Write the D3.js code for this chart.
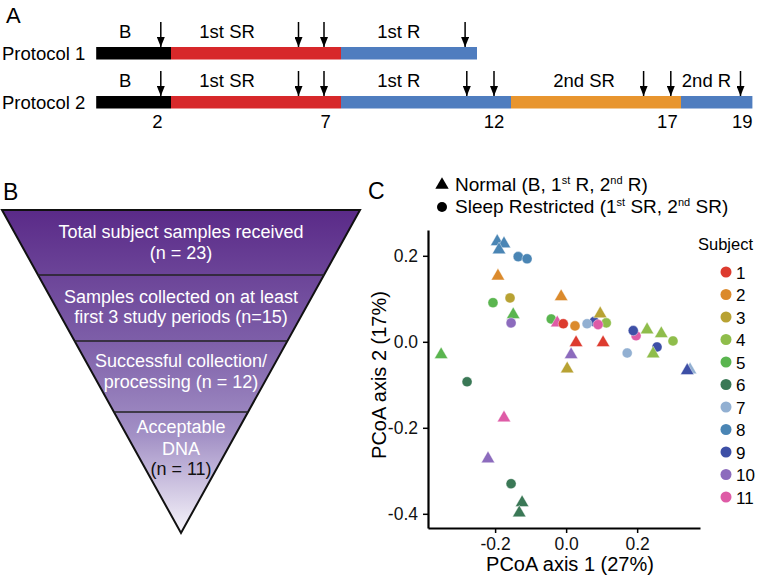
<!DOCTYPE html>
<html>
<head>
<meta charset="utf-8">
<script src="https://cdn.jsdelivr.net/npm/d3@7"></script>
<style>
  body { margin: 0; background: #fff; }
  text { font-family: "Liberation Sans", Arial, sans-serif; }
</style>
</head>
<body>
<div id="fig"></div>
<script>
// ---- panel A data (study days) ----
var periodNames = ["B", "1st SR", "1st R", "2nd SR", "2nd R"];
var periodColors = ["#000000", "#d7282a", "#4f7dbf", "#e8952e", "#4f7dbf"];
var periodStart = [-0.2, 2, 7, 12, 17];
var periodEnd1 = [2, 7, 11.0];
var periodEnd2 = [2, 7, 12, 17, 19.1];
var periodLabelDay = [0.65, 3.65, 8.7, 14.15, 17.75];
var protocolNames = ["Protocol 1", "Protocol 2"];
var sampleDays1 = [1.7, 5.75, 6.5, 10.65];
var sampleDays2 = [1.7, 5.75, 6.5, 10.7, 11.5, 15.9, 16.7, 18.75];
var dayTicks = ["2", "7", "12", "17", "19"];
var dayTickAt = [1.6, 6.55, 11.5, 16.6, 18.8];

// ---- panel B data ----
var funnelStages = [
  ["Total subject samples received", "(n = 23)"],
  ["Samples collected on at least", "first 3 study periods (n=15)"],
  ["Successful collection/", "processing (n = 12)"],
  ["Acceptable", "DNA", "(n = 11)"]
];

// ---- panel C data ----
var subjects = ["1", "2", "3", "4", "5", "6", "7", "8", "9", "10", "11"];
var subjectColors = ["#dd3b2f", "#db8a2c", "#b8a233", "#8fbd4b", "#5ab54f", "#3a7856",
                     "#92b0d2", "#4a85b4", "#3d4fa6", "#8c6bbd", "#de5ba6"];
var ptSubject = [8, 8, 8, 8, 8, 2, 2, 5, 3, 5, 10, 5, 11, 1, 2, 9, 3, 4, 7, 11,
                 1, 1, 10, 3, 5, 6, 11, 10, 6, 6, 6, 11, 9, 4, 4, 4, 9, 7, 4, 7, 9];
var ptType = ["N", "N", "N", "S", "S", "N", "N", "S", "S", "N", "S", "S", "N", "S", "S", "S", "N", "S", "S", "S",
              "N", "N", "N", "N", "N", "S", "N", "N", "S", "N", "N", "S", "S", "N", "N", "S", "S", "S", "N", "N", "N"];
var ptX = [-0.194, -0.175, -0.189, -0.135, -0.110, -0.192, -0.014, -0.206, -0.158, -0.149,
           -0.155, -0.042, -0.025, -0.008, 0.025, 0.079, 0.096, 0.113, 0.059, 0.090,
           0.028, 0.104, 0.014, 0.003, -0.352, -0.279, -0.175, -0.220, -0.155, -0.124,
           -0.132, 0.197, 0.189, 0.228, 0.268, 0.301, 0.256, 0.172, 0.245, 0.349, 0.341];
var ptY = [0.233, 0.228, 0.214, 0.198, 0.193, 0.153, 0.105, 0.091, 0.102, 0.063,
           0.044, 0.053, 0.044, 0.042, 0.037, 0.047, 0.065, 0.044, 0.042, 0.040,
           -0.002, -0.002, -0.030, -0.063, -0.030, -0.093, -0.177, -0.272, -0.330, -0.374,
           -0.398, 0.014, 0.026, 0.028, 0.019, 0.002, -0.012, -0.026, -0.028, -0.065, -0.067];
var xTicks = [-0.2, 0.0, 0.2];
var yTicks = [-0.4, -0.2, 0.0, 0.2];

var svg = d3.select("#fig").append("svg")
    .attr("width", 762)
    .attr("height", 576);

// arrow head marker
svg.append("defs").append("marker")
    .attr("id", "arrow")
    .attr("viewBox", "0 0 10 8")
    .attr("refX", 10).attr("refY", 4)
    .attr("markerWidth", 10).attr("markerHeight", 8)
    .attr("markerUnits", "userSpaceOnUse")
    .attr("orient", "auto")
    .append("path").attr("d", "M0,0L10,4L0,8Z").attr("fill", "#000");

// ================= panel A =================
var day = d3.scaleLinear().domain([0, 19]).range([103, 749]);
var panelA = svg.append("g");

panelA.append("text").attr("x", 6).attr("y", 23).attr("font-size", 22).text("A");

var rowTop = [47, 96];
var rowEnds = [periodEnd1, periodEnd2];
var rowSamples = [sampleDays1, sampleDays2];

protocolNames.forEach(function(name, r) {
    var top = rowTop[r];
    var ends = rowEnds[r];

    panelA.append("text")
        .attr("x", 2).attr("y", top + 12.5)
        .attr("font-size", 18.5)
        .text(name);

    panelA.selectAll(null)
        .data(ends)
        .enter()
        .append("rect")
        .attr("x", (d, i) => day(periodStart[i]))
        .attr("width", (d, i) => day(d) - day(periodStart[i]))
        .attr("y", top)
        .attr("height", 12.5)
        .attr("fill", (d, i) => periodColors[i]);

    panelA.selectAll(null)
        .data(ends)
        .enter()
        .append("text")
        .attr("x", (d, i) => day(periodLabelDay[i]))
        .attr("y", top - 9)
        .attr("text-anchor", "middle")
        .attr("font-size", 18.5)
        .text((d, i) => periodNames[i]);

    panelA.selectAll(null)
        .data(rowSamples[r])
        .enter()
        .append("line")
        .attr("x1", d => day(d)).attr("x2", d => day(d))
        .attr("y1", top - 25).attr("y2", top)
        .attr("stroke", "#000")
        .attr("stroke-width", 1.5)
        .attr("marker-end", "url(#arrow)");
});

panelA.selectAll(null)
    .data(dayTicks)
    .enter()
    .append("text")
    .attr("x", (d, i) => day(dayTickAt[i]))
    .attr("y", 128)
    .attr("text-anchor", "middle")
    .attr("font-size", 18.5)
    .text(d => d);

// ================= panel B =================
var panelB = svg.append("g");
panelB.append("text").attr("x", 3).attr("y", 200).attr("font-size", 23).text("B");

var grad = svg.select("defs").append("linearGradient")
    .attr("id", "funnelGrad")
    .attr("x1", 0).attr("y1", 0).attr("x2", 0).attr("y2", 1);
grad.append("stop").attr("offset", "0%").attr("stop-color", "#5a2a88");
grad.append("stop").attr("offset", "40%").attr("stop-color", "#7d5ea8");
grad.append("stop").attr("offset", "70%").attr("stop-color", "#a391c6");
grad.append("stop").attr("offset", "100%").attr("stop-color", "#f7f5fb");

var fTop = 210, fBottom = 533, fLeft = 2, fRight = 360, fMid = 181;
var stageBreaks = [275, 341, 412];
var edgeX = function(yy, side) {
    var t = (yy - fTop) / (fBottom - fTop);
    return side < 0 ? fLeft + (fMid - fLeft) * t : fRight - (fRight - fMid) * t;
};

panelB.append("path")
    .attr("d", `M${fLeft},${fTop}L${fRight},${fTop}L${fMid},${fBottom}Z`)
    .attr("fill", "url(#funnelGrad)")
    .attr("stroke", "#111")
    .attr("stroke-width", 2)
    .attr("stroke-linejoin", "miter");

panelB.selectAll(null)
    .data(stageBreaks)
    .enter()
    .append("line")
    .attr("x1", d => edgeX(d, -1))
    .attr("x2", d => edgeX(d, 1))
    .attr("y1", d => d).attr("y2", d => d)
    .attr("stroke", "#222")
    .attr("stroke-width", 1.5);

var lineY = [[238, 259], [303, 323], [367, 388], [433, 455, 475]];
funnelStages.forEach(function(lines, s) {
    panelB.selectAll(null)
        .data(lines)
        .enter()
        .append("text")
        .attr("x", fMid)
        .attr("y", (d, i) => lineY[s][i])
        .attr("text-anchor", "middle")
        .attr("font-size", 18)
        .attr("fill", (d, i) => (s === 3 && i === 2) ? "#111" : "#fff")
        .text(d => d);
});

// ================= panel C =================
var panelC = svg.append("g");
panelC.append("text").attr("x", 368).attr("y", 199).attr("font-size", 23).text("C");

// legend for shapes
var tri = d3.symbol().type(d3.symbolTriangle).size(78);
panelC.append("path").attr("d", tri()).attr("transform", "translate(442,185)").attr("fill", "#000");
panelC.append("circle").attr("cx", 442).attr("cy", 207).attr("r", 5).attr("fill", "#000");

var leg1 = panelC.append("text").attr("x", 455).attr("y", 191).attr("font-size", 19);
leg1.append("tspan").text("Normal (B, 1");
leg1.append("tspan").attr("font-size", 11).attr("dy", -7).text("st");
leg1.append("tspan").attr("dy", 7).text(" R, 2");
leg1.append("tspan").attr("font-size", 11).attr("dy", -7).text("nd");
leg1.append("tspan").attr("dy", 7).text(" R)");

var leg2 = panelC.append("text").attr("x", 455).attr("y", 213).attr("font-size", 19);
leg2.append("tspan").text("Sleep Restricted (1");
leg2.append("tspan").attr("font-size", 11).attr("dy", -7).text("st");
leg2.append("tspan").attr("dy", 7).text(" SR, 2");
leg2.append("tspan").attr("font-size", 11).attr("dy", -7).text("nd");
leg2.append("tspan").attr("dy", 7).text(" SR)");

// scales
var x = d3.scaleLinear().domain([-0.389, 0.377]).range([428, 700]);
var y = d3.scaleLinear().domain([-0.433, 0.26]).range([528, 230]);
var fmt = d => d3.format(".1f")(d).replace("\u2212", "-");

var xAxis = d3.axisBottom(x).tickValues(xTicks).tickFormat(fmt).tickSizeOuter(0).tickSizeInner(5).tickPadding(5);
var yAxis = d3.axisLeft(y).tickValues(yTicks).tickFormat(fmt).tickSizeOuter(0).tickSizeInner(5).tickPadding(5);

var gx = panelC.append("g").attr("transform", "translate(0,528)").call(xAxis);
var gy = panelC.append("g").attr("transform", "translate(428,0)").call(yAxis);
[gx, gy].forEach(function(g) {
    g.select(".domain").attr("stroke-width", 2.2);
    g.selectAll(".tick line").attr("stroke-width", 1.5);
    g.selectAll(".tick text").attr("font-size", 17.5).attr("fill", "#111")
        .style("font-family", "'Liberation Sans', Arial, sans-serif");
});

panelC.append("text")
    .attr("x", 570).attr("y", 571)
    .attr("text-anchor", "middle")
    .attr("font-size", 20)
    .text("PCoA axis 1 (27%)");

panelC.append("text")
    .attr("transform", "translate(386,375) rotate(-90)")
    .attr("text-anchor", "middle")
    .attr("font-size", 20)
    .text("PCoA axis 2 (17%)");

// points
var pts = ptX.map((d, i) => ({ x: d, y: ptY[i], s: ptSubject[i], t: ptType[i] }));
panelC.selectAll(".pt")
    .data(pts)
    .enter()
    .append("path")
    .attr("class", "pt")
    .attr("d", d => d.t === "N"
        ? d3.symbol().type(d3.symbolTriangle).size(78)()
        : d3.symbol().type(d3.symbolCircle).size(80)())
    .attr("transform", d => `translate(${x(d.x)},${y(d.y)})`)
    .attr("fill", d => subjectColors[d.s - 1])
    .attr("stroke", "#fff")
    .attr("stroke-width", 0.4);

// subject legend
panelC.append("text").attr("x", 698).attr("y", 250).attr("font-size", 16.5).text("Subject");
var subj = panelC.selectAll(".subj")
    .data(subjects)
    .enter()
    .append("g")
    .attr("class", "subj")
    .attr("transform", (d, i) => `translate(726,${272 + i * 22.5})`);
subj.append("circle").attr("r", 5.5).attr("fill", (d, i) => subjectColors[i]);
subj.append("text").attr("x", 10).attr("y", 6.5).attr("font-size", 17).text(d => d);
</script>
</body>
</html>
